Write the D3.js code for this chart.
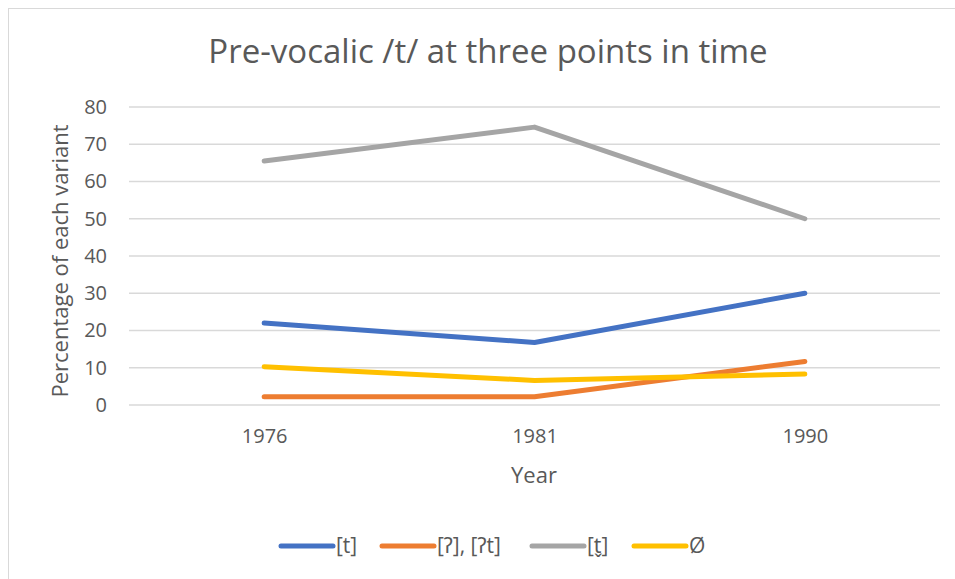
<!DOCTYPE html>
<html>
<head>
<meta charset="utf-8">
<script src="https://cdn.jsdelivr.net/npm/d3@7"></script>
<style>
  body { margin: 0; background: #fff; }
  text { font-family: "Open Sans", "Noto Sans", sans-serif; fill: #595959; }
</style>
</head>
<body>
<div id="chart"></div>
<script>
// data
const years = ["1976", "1981", "1990"];
const seriesNames = ["[t]", "[ʔ], [ʔt]", "[t̬]", "Ø"];
const tValues = [22, 16.8, 30];
const glottalValues = [2.2, 2.2, 11.7];
const tapValues = [65.5, 74.6, 50];
const zeroValues = [10.3, 6.6, 8.3];
const yTicks = [0, 10, 20, 30, 40, 50, 60, 70, 80];
const colors = ["#4472C4", "#ED7D31", "#A5A5A5", "#FFC000"];

const allSeries = [tValues, glottalValues, tapValues, zeroValues];

const width = 955, height = 579;
const margin = { left: 129, right: 15, top: 107, bottom: 174 };

const svg = d3.select("#chart").append("svg")
    .attr("width", width)
    .attr("height", height);

// chart border
svg.append("rect")
    .attr("x", 8.5).attr("y", 8.5)
    .attr("width", 960).attr("height", 600)
    .attr("fill", "none")
    .attr("stroke", "#d9d9d9");

const xScale = d3.scalePoint()
    .domain(years)
    .range([margin.left, width - margin.right])
    .padding(0.5);

const yScale = d3.scaleLinear()
    .domain([0, 80])
    .range([height - margin.bottom, margin.top]);

// gridlines
svg.append("g")
    .selectAll("line")
    .data(yTicks)
    .join("line")
    .attr("x1", margin.left)
    .attr("x2", width - margin.right)
    .attr("y1", d => yScale(d))
    .attr("y2", d => yScale(d))
    .attr("stroke", "#d9d9d9")
    .attr("stroke-width", 1.5);

// y axis labels
const yAxis = d3.axisLeft(yScale).tickValues(yTicks).tickSize(0).tickPadding(0);
const yG = svg.append("g")
    .attr("transform", `translate(${margin.left - 22}, 0)`)
    .call(yAxis);
yG.select(".domain").remove();
yG.selectAll("text")
    .attr("font-size", 20)
    .attr("fill", "#595959")
    .attr("font-family", "Open Sans");

// x axis labels
const xAxis = d3.axisBottom(xScale).tickSize(0).tickPadding(0);
const xG = svg.append("g")
    .attr("transform", `translate(0, ${height - margin.bottom + 24})`)
    .call(xAxis);
xG.select(".domain").remove();
xG.selectAll("text")
    .attr("font-size", 20)
    .attr("fill", "#595959")
    .attr("font-family", "Open Sans");

// lines
const line = d3.line()
    .x((d, i) => xScale(years[i]))
    .y(d => yScale(d));

svg.append("g")
    .selectAll("path")
    .data(allSeries)
    .join("path")
    .attr("d", line)
    .attr("fill", "none")
    .attr("stroke", (d, i) => colors[i])
    .attr("stroke-width", 5)
    .attr("stroke-linecap", "round")
    .attr("stroke-linejoin", "round");

// titles
svg.append("text")
    .attr("x", 488).attr("y", 63)
    .attr("text-anchor", "middle")
    .attr("font-size", 33)
    .text("Pre-vocalic /t/ at three points in time");

svg.append("text")
    .attr("x", 534).attr("y", 483)
    .attr("text-anchor", "middle")
    .attr("font-size", 22)
    .text("Year");

svg.append("text")
    .attr("transform", `translate(68, 261) rotate(-90)`)
    .attr("text-anchor", "middle")
    .attr("font-size", 22)
    .text("Percentage of each variant");

// legend
const legendX = [279, 380, 530, 632];
const legend = svg.append("g")
    .selectAll("g")
    .data(seriesNames)
    .join("g")
    .attr("transform", (d, i) => `translate(${legendX[i]}, 546)`);

legend.append("line")
    .attr("x1", 2).attr("x2", 54)
    .attr("y1", 0).attr("y2", 0)
    .attr("stroke", (d, i) => colors[i])
    .attr("stroke-width", 5)
    .attr("stroke-linecap", "round");

legend.append("text")
    .attr("x", 57).attr("y", 7)
    .attr("font-size", 21)
    .text(d => d);
</script>
</body>
</html>
